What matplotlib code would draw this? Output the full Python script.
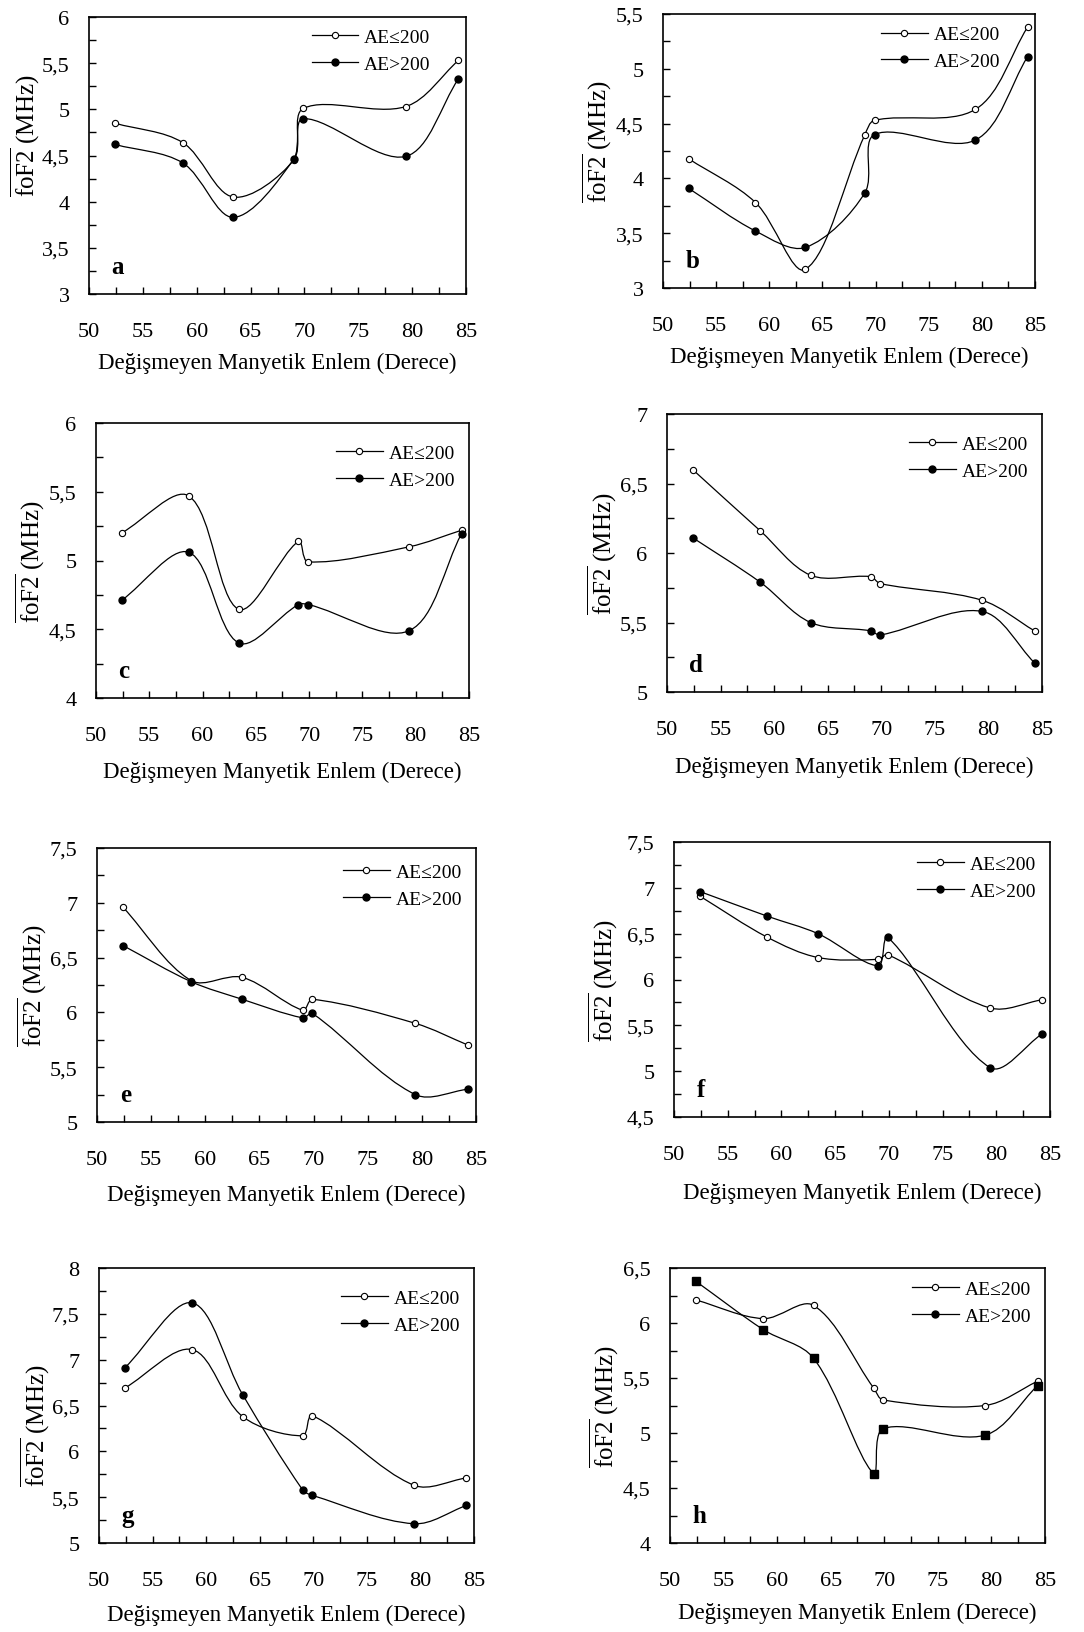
import numpy as np
import matplotlib
matplotlib.use('Agg')
import matplotlib.pyplot as plt
from matplotlib.path import Path
from matplotlib.patches import PathPatch
from matplotlib.lines import Line2D
from matplotlib.ticker import MultipleLocator, FuncFormatter

plt.rcParams['font.family'] = ['Liberation Serif', 'DejaVu Serif']
plt.rcParams['mathtext.fontset'] = 'custom'
plt.rcParams['mathtext.rm'] = 'Liberation Serif'

# Değişmeyen manyetik enlem (derece)
enlem = [52.4, 58.7, 63.4, 69.0, 69.9, 79.4, 84.3]

# foF2 ortalamalari (MHz), AE<=200 ve AE>200
a_dusuk = [4.85, 4.64, 4.05, 4.45, 5.01, 5.03, 5.53]
a_yuksek = [4.62, 4.42, 3.83, 4.46, 4.90, 4.49, 5.33]
b_dusuk = [4.18, 3.78, 3.17, 4.40, 4.53, 4.63, 5.38]
b_yuksek = [3.91, 3.52, 3.37, 3.87, 4.40, 4.35, 5.11]
c_dusuk = [5.20, 5.47, 4.645, 5.14, 4.99, 5.10, 5.22]
c_yuksek = [4.71, 5.06, 4.40, 4.68, 4.68, 4.49, 5.195]
d_dusuk = [6.60, 6.16, 5.84, 5.83, 5.78, 5.66, 5.44]
d_yuksek = [6.11, 5.79, 5.50, 5.44, 5.41, 5.58, 5.21]
e_dusuk = [6.96, 6.29, 6.32, 6.02, 6.12, 5.90, 5.70]
e_yuksek = [6.61, 6.28, 6.12, 5.95, 5.99, 5.25, 5.30]
f_dusuk = [6.91, 6.46, 6.24, 6.22, 6.27, 5.69, 5.78]
f_yuksek = [6.96, 6.69, 6.50, 6.15, 6.46, 5.04, 5.41]
g_dusuk = [6.69, 7.11, 6.38, 6.17, 6.39, 5.63, 5.71]
g_yuksek = [6.91, 7.62, 6.62, 5.58, 5.52, 5.21, 5.41]
h_dusuk = [6.21, 6.04, 6.16, 5.41, 5.30, 5.25, 5.47]
h_yuksek = [6.38, 5.94, 5.68, 4.63, 5.04, 4.98, 5.43]

harfler = ['a', 'b', 'c', 'd', 'e', 'f', 'g', 'h']
y_sinirlar = [(3, 6), (3, 5.5), (4, 6), (5, 7), (5, 7.5), (4.5, 7.5), (5, 8), (4, 6.5)]
seriler = [(a_dusuk, a_yuksek), (b_dusuk, b_yuksek), (c_dusuk, c_yuksek), (d_dusuk, d_yuksek),
           (e_dusuk, e_yuksek), (f_dusuk, f_yuksek), (g_dusuk, g_yuksek), (h_dusuk, h_yuksek)]

# eksen kutulari piksel olarak (sol, sag, ust, alt)
W, H = 1084, 1633
kutular = [(89, 466, 18, 295), (663, 1035, 15, 289),
           (96, 469, 424, 699), (667, 1042, 415, 693),
           (97, 476, 849, 1123), (674, 1050, 843, 1118),
           (99, 474, 1269, 1544), (670, 1045, 1269, 1544)]
ylabel_x = [-0.124, -0.131, -0.131, -0.128, -0.126, -0.144, -0.125, -0.131]
ylabel_y = [0.575, 0.536, 0.5, 0.5, 0.5, 0.5, 0.43, 0.5]
xlabel_y = [-0.208, -0.21, -0.23, -0.23, -0.225, -0.235, -0.22, -0.215]
lejant_xy = [(0.953, 1.021), (0.953, 1.021), (1.009, 0.985), (1.009, 0.985),
             (1.009, 1.007), (1.009, 1.014), (1.009, 0.985), (1.009, 1.018)]


def egri(ax, xs, ys):
    # Excel tarzi yumusak cizgi (Bezier)
    p = ax.transData.transform(np.column_stack([xs, ys]))
    n = len(p)
    verts = [p[0]]
    codes = [Path.MOVETO]
    for i in range(n - 1):
        p0 = p[i - 1] if i > 0 else p[i]
        p1, p2 = p[i], p[i + 1]
        p3 = p[i + 2] if i + 2 < n else p[i + 1]
        d01 = np.hypot(*(p1 - p0))
        d12 = np.hypot(*(p2 - p1))
        d23 = np.hypot(*(p3 - p2))
        c1 = p1 + (p2 - p0) * (d12 / (d01 + d12)) / 3
        c2 = p2 - (p3 - p1) * (d12 / (d12 + d23)) / 3
        verts += [c1, c2, p2]
        codes += [Path.CURVE4] * 3
    verts = ax.transData.inverted().transform(np.array(verts))
    ax.add_patch(PathPatch(Path(verts, codes), fill=False, lw=0.9, color='black'))


virgul = FuncFormatter(lambda v, pos: f"{v:g}".replace('.', ','))

fig = plt.figure(figsize=(W / 100, H / 100), dpi=100)

for k in range(8):
    l, r, t, b = kutular[k]
    ax = fig.add_axes([l / W, 1 - b / H, (r - l) / W, (b - t) / H])
    ax.set_xlim(50, 85)
    ax.set_ylim(*y_sinirlar[k])
    dusuk, yuksek = seriler[k]

    egri(ax, enlem, dusuk)
    egri(ax, enlem, yuksek)
    ax.plot(enlem, dusuk, 'o', ms=4.5, mfc='white', mec='black', mew=0.8, zorder=3)
    if harfler[k] == 'h':
        ax.plot(enlem, yuksek, 's', ms=5.5, color='black', zorder=3)
    else:
        ax.plot(enlem, yuksek, 'o', ms=5, color='black', zorder=3)

    ax.xaxis.set_major_locator(MultipleLocator(5))
    ax.xaxis.set_minor_locator(MultipleLocator(2.5))
    ax.yaxis.set_major_locator(MultipleLocator(0.5))
    ax.yaxis.set_minor_locator(MultipleLocator(0.25))
    ax.yaxis.set_major_formatter(virgul)
    ax.tick_params(which='both', direction='in', length=5, width=1, top=False, right=False)
    ax.tick_params(axis='x', which='major', pad=20, labelsize=16)
    ax.tick_params(axis='y', which='major', pad=14, labelsize=16)
    for s in ax.spines.values():
        s.set_linewidth(1.2)

    ax.set_xlabel('Değişmeyen Manyetik Enlem (Derece)', fontsize=16.5)
    ax.xaxis.set_label_coords(0.5, xlabel_y[k])
    ax.set_ylabel(r'$\overline{\mathrm{foF2}}$ (MHz)', fontsize=18)
    ax.yaxis.set_label_coords(ylabel_x[k], ylabel_y[k])

    ax.text(0.06, 0.1, harfler[k], transform=ax.transAxes, fontsize=18,
            fontweight='bold', va='center', ha='left')

    tutamak = [Line2D([], [], color='black', lw=0.9, marker='o', ms=4.5, mfc='white', mec='black', mew=0.8),
               Line2D([], [], color='black', lw=0.9, marker='o', ms=5, mfc='black', mec='black')]
    ax.legend(tutamak, ['AE≤200', 'AE>200'], loc='upper right', bbox_to_anchor=lejant_xy[k],
              frameon=False, fontsize=14, handlelength=2.4, handletextpad=0.3, labelspacing=0.45)

fig.savefig('out.png', dpi=100)
